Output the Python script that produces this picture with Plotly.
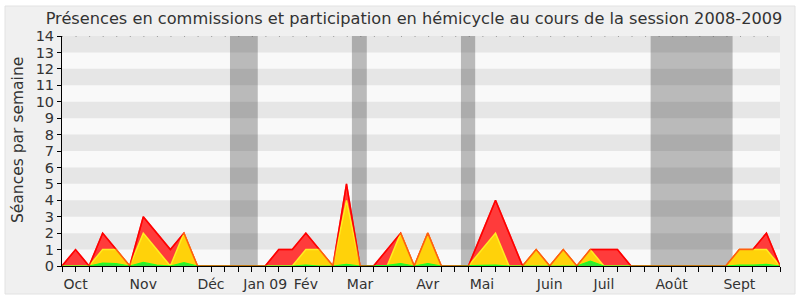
import plotly.graph_objects as go

weeks = list(range(54))
red = [0, 1, 0, 2, 1, 0, 3, 2, 1, 2, 0, 0, 0, 0, 0, 0, 1, 1, 2, 1,
       0, 5, 0, 0, 1, 2, 0, 2, 0, 0, 0, 2, 4, 2, 0, 1, 0, 1, 0, 1,
       1, 1, 0, 0, 0, 0, 0, 0, 0, 0, 1, 1, 2, 0]
yellow = [0, 0, 0, 1, 1, 0, 2, 1, 0, 2, 0, 0, 0, 0, 0, 0, 0, 0, 1, 1,
          0, 4, 0, 0, 0, 2, 0, 2, 0, 0, 0, 1, 2, 0, 0, 1, 0, 1, 0, 1,
          0, 0, 0, 0, 0, 0, 0, 0, 0, 0, 1, 1, 1, 0]
green = [0, 0, 0, 0.18, 0.14, 0, 0.22, 0.05, 0, 0.2, 0, 0, 0, 0, 0, 0, 0, 0, 0.06, 0,
         0, 0.1, 0, 0, 0.04, 0.15, 0, 0.15, 0, 0, 0, 0.04, 0.05, 0, 0, 0, 0, 0, 0, 0.3,
         0, 0, 0, 0, 0, 0, 0, 0, 0, 0, 0.05, 0.05, 0.1, 0]
month_labels = ["Oct", "Nov", "Déc", "Jan 09", "Fév", "Mar", "Avr", "Mai", "Juin", "Juil", "Août", "Sept"]
month_weeks = [1, 6, 11, 15, 18, 22, 27, 31, 36, 40, 45, 50]
vacances = [(12.4, 14.45), (21.4, 22.5), (29.45, 30.5), (43.45, 49.5)]
y_max = 14

FONT = "DejaVu Sans"
TXT = "#333333"

fig = go.Figure()
fig.add_trace(go.Scatter(x=weeks, y=red, mode="lines", fill="tozeroy",
                         fillcolor="#ff3b3b", line=dict(color="#ff0000", width=1.5),
                         hoverinfo="skip", showlegend=False))
fig.add_trace(go.Scatter(x=weeks, y=yellow, mode="lines", fill="tozeroy",
                         fillcolor="#ffd20a", line=dict(color="#ffee22", width=1.5),
                         hoverinfo="skip", showlegend=False))
fig.add_trace(go.Scatter(x=weeks, y=green, mode="lines", fill="tozeroy",
                         fillcolor="#33e633", line=dict(color="#22ff22", width=1.2),
                         hoverinfo="skip", showlegend=False))
fig.add_trace(go.Scatter(x=weeks, y=red, mode="lines",
                         line=dict(color="rgba(255,0,0,0.6)", width=1.5),
                         hoverinfo="skip", showlegend=False))

L, R, T, B = 62, 20, 36, 34
PW, PH = 800 - L - R, 300 - T - B

def px_x(p):
    return (p - L) / PW

def px_y(p):
    return (300 - B - p) / PH

shapes = []
shapes.append(dict(type="rect", xref="paper", yref="paper", x0=px_x(5), x1=px_x(795), y0=px_y(294), y1=px_y(6),
                   fillcolor="#f0f0f0", line=dict(color="#e2e2e2", width=1), layer="below"))
shapes.append(dict(type="rect", xref="x", yref="y", x0=0, x1=53, y0=0, y1=y_max,
                   fillcolor="#f9f9f9", line=dict(width=0), layer="below"))
for n in range(1, y_max, 2):
    shapes.append(dict(type="rect", xref="x", yref="y", x0=0, x1=53, y0=n, y1=n + 1,
                       fillcolor="#e6e6e6", line=dict(width=0), layer="below"))
for a, b in vacances:
    shapes.append(dict(type="rect", xref="x", yref="y", x0=a, x1=b, y0=0, y1=y_max,
                       fillcolor="rgba(0,0,0,0.25)", line=dict(width=0), layer="below"))
shapes.append(dict(type="line", xref="x", yref="y", x0=0, x1=53, y0=y_max, y1=y_max,
                   line=dict(color="#555555", width=1, dash="1px,12.56px"), layer="above"))

ticktext = [""] * len(weeks)
for lab, w in zip(month_labels, month_weeks):
    ticktext[w] = lab

fig.update_layout(
    width=800, height=300,
    margin=dict(l=L, r=R, t=T, b=B, autoexpand=False),
    paper_bgcolor="white", plot_bgcolor="rgba(0,0,0,0)",
    shapes=shapes,
    title=dict(text="Présences en commissions et participation en hémicycle au cours de la session 2008-2009",
               x=414 / 800, xanchor="center", y=1 - 18 / 300, yanchor="middle", yref="container",
               font=dict(family=FONT, size=16.2, color=TXT)),
    xaxis=dict(range=[0, 53], tickmode="array", tickvals=weeks, ticktext=ticktext, automargin=False,
               ticks="outside", ticklen=5, tickcolor="#000000", showline=True, linecolor="#000000",
               showgrid=False, zeroline=False, tickfont=dict(family=FONT, size=14, color=TXT)),
    yaxis=dict(range=[0, y_max], tickmode="linear", tick0=0, dtick=1, automargin=False,
               ticks="outside", ticklen=4, tickcolor="#000000", showline=True, linecolor="#000000",
               showgrid=False, zeroline=False, tickfont=dict(family=FONT, size=14.5, color=TXT)),
    annotations=[dict(text="Séances par semaine", xref="paper", yref="paper",
                      x=px_x(18), y=px_y(140), textangle=-90, showarrow=False,
                      xanchor="center", yanchor="middle",
                      font=dict(family=FONT, size=15.5, color=TXT))],
)
fig.write_html("out.html")
